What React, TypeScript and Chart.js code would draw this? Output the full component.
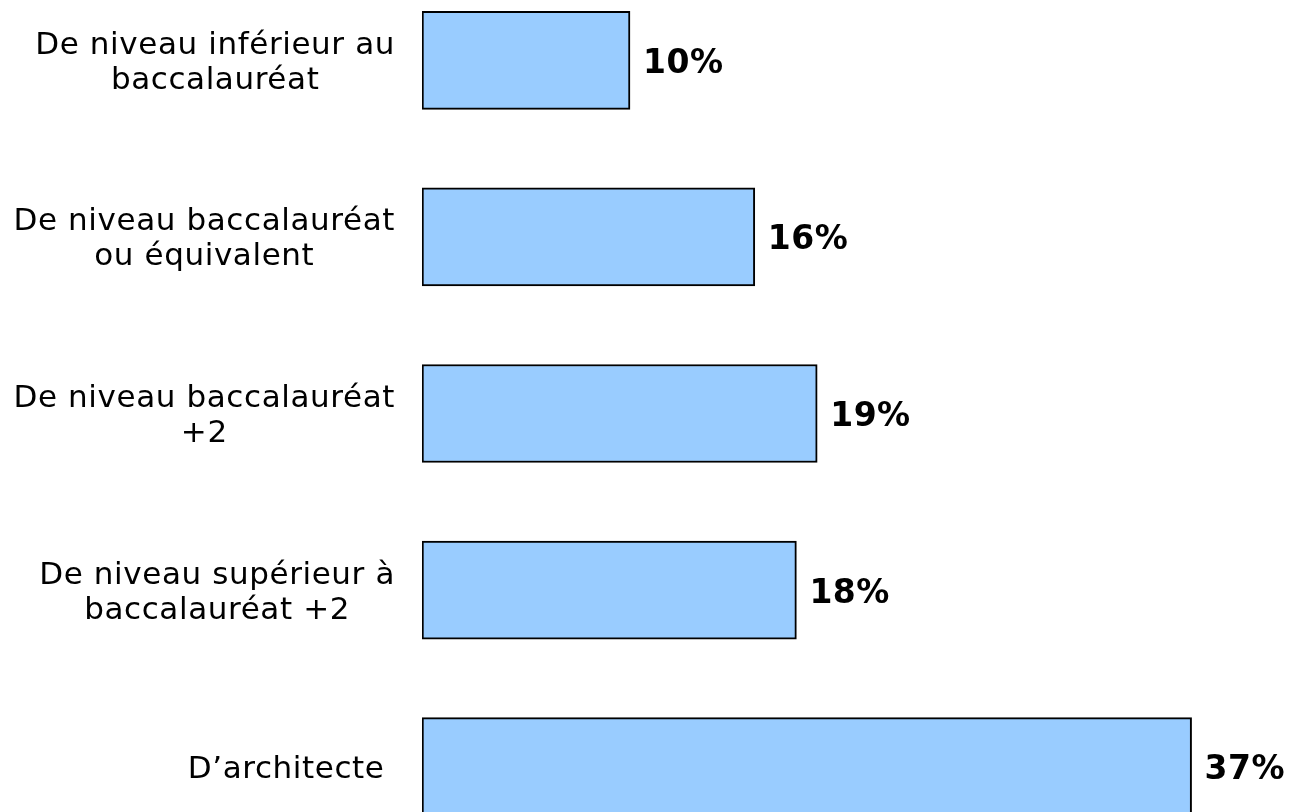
import React, { useEffect, useRef } from 'react';
import { Chart, registerables } from 'chart.js';

Chart.register(...registerables);

const categories: string[][] = [
  ['De niveau inférieur au', 'baccalauréat'],
  ['De niveau baccalauréat', 'ou équivalent'],
  ['De niveau baccalauréat', '+2'],
  ['De niveau supérieur à', 'baccalauréat +2'],
  ['D’architecte '],
];
const values: number[] = [10, 16, 19, 18, 37];
const valueLabels: string[] = values.map((v) => `${v}%`);

const FONT = '"DejaVu Sans", Verdana, sans-serif';

const labelPlugin = {
  id: 'customLabels',
  afterDatasetsDraw(chart: any) {
    const ctx = chart.ctx as any;
    const yScale = chart.scales.y;
    const area = chart.chartArea;
    ctx.save();
    ctx.fillStyle = '#000000';
    ctx.textBaseline = 'middle';
    ctx.font = `31px ${FONT}`;
    ctx.letterSpacing = '0.6px';
    ctx.textAlign = 'center';
    const lh = 35;
    categories.forEach((lines, i) => {
      const y = yScale.getPixelForTick(i) + 3;
      const widest = Math.max(...lines.map((l) => ctx.measureText(l).width));
      const cx = area.left - 27 - widest / 2;
      const y0 = y - ((lines.length - 1) * lh) / 2;
      lines.forEach((l, j) => ctx.fillText(l, cx, y0 + j * lh));
    });
    ctx.font = `bold 33px ${FONT}`;
    ctx.letterSpacing = '0.5px';
    ctx.textAlign = 'left';
    const meta = chart.getDatasetMeta(0);
    meta.data.forEach((bar: any, i: number) => {
      ctx.fillText(valueLabels[i], bar.x + 13, bar.y + 4);
    });
    ctx.letterSpacing = '0px';
    ctx.restore();
  },
};

export default function App() {
  const canvasRef = useRef<HTMLCanvasElement | null>(null);

  useEffect(() => {
    if (!canvasRef.current) return;
    Chart.defaults.font.family = FONT;
    const chart = new Chart(canvasRef.current, {
      type: 'bar',
      data: {
        labels: categories.map((c) => c.join(' ').trim()),
        datasets: [
          {
            data: values,
            backgroundColor: '#99CCFF',
            borderColor: '#000000',
            borderWidth: 2,
            borderSkipped: false,
            barThickness: 98,
          },
        ],
      },
      options: {
        indexAxis: 'y',
        animation: false,
        responsive: true,
        maintainAspectRatio: false,
        layout: { padding: { left: 422, right: 36, top: 0, bottom: 0 } },
        plugins: {
          legend: { display: false },
          tooltip: { enabled: false },
        },
        scales: {
          x: { display: false, min: 0, max: 40 },
          y: { display: false },
        },
      },
      plugins: [labelPlugin],
    });
    return () => chart.destroy();
  }, []);

  return (
    <div style={{ position: 'fixed', left: 0, top: -28, width: 1290, height: 883, background: '#fff' }}>
      <canvas ref={canvasRef} />
    </div>
  );
}
